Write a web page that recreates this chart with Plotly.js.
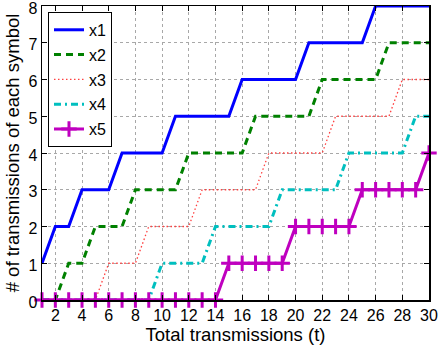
<!DOCTYPE html>
<html>
<head>
<meta charset="utf-8">
<script src="https://cdn.plot.ly/plotly-3.0.1.min.js"></script>
<style>
html,body{margin:0;padding:0;background:#fff;}
#chart{width:439px;height:348px;}
</style>
</head>
<body>
<div id="chart"></div>
<script>
const t = [1,2,3,4,5,6,7,8,9,10,11,12,13,14,15,16,17,18,19,20,21,22,23,24,25,26,27,28,29,30];
const x1 = [1,2,2,3,3,3,4,4,4,4,5,5,5,5,5,6,6,6,6,6,7,7,7,7,7,8,8,8,8,8];
const x2 = [0,0,1,1,2,2,2,3,3,3,3,4,4,4,4,4,5,5,5,5,5,6,6,6,6,6,7,7,7,7];
const x3 = [0,0,0,0,0,1,1,1,2,2,2,2,3,3,3,3,3,4,4,4,4,4,5,5,5,5,5,6,6,6];
const x4 = [0,0,0,0,0,0,0,0,0,1,1,1,1,2,2,2,2,2,3,3,3,3,3,4,4,4,4,4,5,5];
const x5 = [0,0,0,0,0,0,0,0,0,0,0,0,0,0,1,1,1,1,1,2,2,2,2,2,3,3,3,3,3,4];
const seriesNames = ['x1','x2','x3','x4','x5'];
const xTicks = [2,4,6,8,10,12,14,16,18,20,22,24,26,28,30];
const yTicks = [0,1,2,3,4,5,6,7,8];

const FONT = 'Liberation Sans, Arial, sans-serif';
const traces = [
  {x:t, y:x1, name:seriesNames[0], mode:'lines', line:{color:'#0000ff', width:3}},
  {x:t, y:x2, name:seriesNames[1], mode:'lines', line:{color:'#008000', width:3, dash:'7px,5px'}},
  {x:t, y:x3, name:seriesNames[2], mode:'lines', line:{color:'#ff4040', width:1.3, dash:'1.5px,2.5px'}},
  {x:t, y:x4, name:seriesNames[3], mode:'lines', line:{color:'#00bfbf', width:3, dash:'7px,4px,2px,4px'}},
  {x:t, y:x5, name:seriesNames[4], mode:'lines+markers', line:{color:'#bf00bf', width:3},
   marker:{symbol:'cross-thin', size:11, line:{color:'#bf00bf', width:3}, color:'#bf00bf'}}
].map((tr,i)=>Object.assign(tr,{legendgroup:'g'+i, cliponaxis:false}));

const layout = {
  width:439, height:348,
  margin:{l:42, r:10, t:6, b:47.5},
  paper_bgcolor:'#fff', plot_bgcolor:'#fff',
  font:{family:FONT, color:'#000', size:16},
  showlegend:true,
  legend:{x:0.0155, y:0.98, xanchor:'left', yanchor:'top', bgcolor:'#fff',
          bordercolor:'#000', borderwidth:1, font:{family:FONT, size:16, color:'#000'},
          tracegroupgap:1, traceorder:'grouped'},
  xaxis:{range:[1,30], tickvals:xTicks, ticktext:xTicks.map(String),
         showgrid:true, gridcolor:'#a8a8a8', gridwidth:1, griddash:'dot',
         showline:true, linecolor:'#000', linewidth:1.5, mirror:'ticks',
         ticks:'inside', ticklen:5, tickcolor:'#000', tickwidth:1,
         zeroline:false, tickfont:{family:FONT, size:16}, ticklabeloverflow:'allow',
         title:{text:'Total transmissions (t)', font:{family:FONT, size:18.5}, standoff:2},
         automargin:false},
  yaxis:{range:[0,8], tickvals:yTicks, ticktext:yTicks.map(String),
         showgrid:true, gridcolor:'#a8a8a8', gridwidth:1, griddash:'dot',
         showline:true, linecolor:'#000', linewidth:1.5, mirror:'ticks',
         ticks:'inside', ticklen:5, tickcolor:'#000', tickwidth:1,
         zeroline:false, tickfont:{family:FONT, size:16}, ticklabeloverflow:'allow',
         ticklabelshift:2,
         title:{text:'# of transmissions of each symbol', font:{family:FONT, size:18.5}, standoff:4},
         automargin:false}
};
Plotly.newPlot('chart', traces, layout, {displayModeBar:false, staticPlot:true});
</script>
</body>
</html>
